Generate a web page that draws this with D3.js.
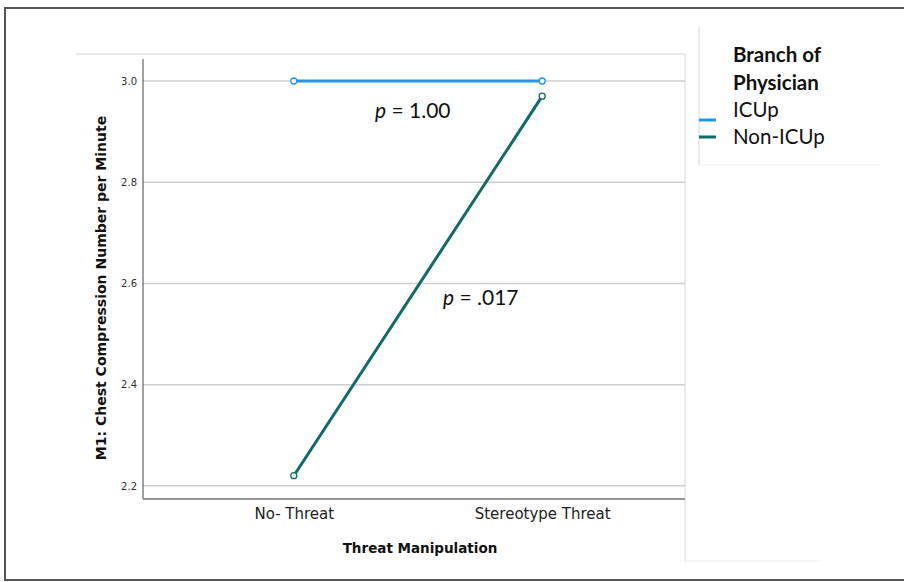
<!DOCTYPE html>
<html>
<head>
<meta charset="utf-8">
<script src="https://cdn.jsdelivr.net/npm/d3@7"></script>
<style>
  html, body { margin: 0; padding: 0; background: #fff; }
  svg { display: block; }
</style>
</head>
<body>
<div id="chart"></div>
<script>
// Chart data
let conditions = ['No- Threat', 'Stereotype Threat'];
let groups = ['ICUp', 'Non-ICUp'];
let icupMeans = [3.0, 3.0];
let nonIcupMeans = [2.22, 2.97];
let yTicks = [2.2, 2.4, 2.6, 2.8, 3.0];
let pLabels = ['1.00', '.017'];

let width = 904;
let height = 582;
let colors = ['#2394e8', '#0e6b68'];

let svg = d3.select('#chart')
  .append('svg')
  .attr('width', width)
  .attr('height', height);

// Outer frame
svg.append('rect')
  .attr('x', 5).attr('y', 8)
  .attr('width', 910).attr('height', 572)
  .attr('fill', 'none')
  .attr('stroke', '#555')
  .attr('stroke-width', 2);

// Plot area
let plotLeft = 143, plotRight = 685, plotTop = 54, plotBottom = 499;

let x = d3.scalePoint()
  .domain(conditions)
  .range([plotLeft + 8, plotRight])
  .padding(0.575);

let y = d3.scaleLinear()
  .domain([2.174, 3.0])
  .range([plotBottom, 81]);

// Panel outline lines
svg.append('line')
  .attr('x1', 76).attr('x2', plotRight)
  .attr('y1', plotTop).attr('y2', plotTop)
  .attr('stroke', '#d6d6d6');
svg.append('line')
  .attr('x1', plotRight).attr('x2', plotRight)
  .attr('y1', plotTop).attr('y2', 561)
  .attr('stroke', '#d6d6d6');
svg.append('line')
  .attr('x1', plotRight).attr('x2', 820)
  .attr('y1', 561).attr('y2', 561)
  .attr('stroke', '#ececec');

// Gridlines
svg.append('g')
  .selectAll('line')
  .data(yTicks)
  .enter()
  .append('line')
  .attr('x1', plotLeft).attr('x2', plotRight)
  .attr('y1', (d) => y(d)).attr('y2', (d) => y(d))
  .attr('stroke', '#cfcfcf')
  .attr('stroke-width', 1.5);

// Y axis
let yAxis = svg.append('g')
  .attr('transform', 'translate(' + plotLeft + ',0)')
  .call(d3.axisLeft(y).tickValues(yTicks).tickFormat(d3.format('.1f')).tickSize(0).tickPadding(6));
yAxis.select('.domain')
  .attr('d', 'M0,59V' + plotBottom)
  .attr('stroke', '#444');
yAxis.selectAll('text')
  .style('font', '10px "DejaVu Sans"')
  .attr('fill', '#333');

// X axis
let xAxis = svg.append('g')
  .attr('transform', 'translate(0,' + plotBottom + ')')
  .call(d3.axisBottom(x).tickSize(0).tickPadding(9));
xAxis.select('.domain')
  .attr('d', 'M' + plotLeft + ',0H' + plotRight)
  .attr('stroke', '#777')
  .attr('stroke-width', 1.5);
xAxis.selectAll('text')
  .style('font', '15px "DejaVu Sans"')
  .attr('fill', '#222');

// Axis titles
svg.append('text')
  .attr('transform', 'translate(106,288) rotate(-90)')
  .attr('text-anchor', 'middle')
  .style('font', 'bold 14px "DejaVu Sans"')
  .attr('fill', '#111')
  .text('M1: Chest Compression Number per Minute');

svg.append('text')
  .attr('x', 420).attr('y', 553)
  .attr('text-anchor', 'middle')
  .style('font', 'bold 13.5px "DejaVu Sans"')
  .attr('fill', '#111')
  .text('Threat Manipulation');

// Lines and markers
let series = [icupMeans, nonIcupMeans];
let line = d3.line()
  .x((d, i) => x(conditions[i]))
  .y((d) => y(d));

let seriesG = svg.selectAll('.series')
  .data(series)
  .enter()
  .append('g')
  .attr('class', 'series');

seriesG.append('path')
  .attr('d', (d) => line(d))
  .attr('fill', 'none')
  .attr('stroke', (d, i) => colors[i])
  .attr('stroke-width', 3);

seriesG.each(function (d, si) {
  d3.select(this).selectAll('circle')
    .data(d)
    .enter()
    .append('circle')
    .attr('cx', (v, i) => x(conditions[i]))
    .attr('cy', (v) => y(v))
    .attr('r', 3)
    .attr('fill', '#fff')
    .attr('stroke', colors[si])
    .attr('stroke-width', 1.3);
});

// p-value annotations
let pPos = [[375, 118], [443, 305]];
pLabels.forEach((p, i) => {
  let t = svg.append('text')
    .attr('x', pPos[i][0]).attr('y', pPos[i][1])
    .style('font', '21px Lato')
    .attr('fill', '#111');
  t.append('tspan').style('font-style', 'italic').text('p');
  t.append('tspan').text(' = ' + p);
});

// Legend
svg.append('line')
  .attr('x1', 699).attr('x2', 699)
  .attr('y1', 27).attr('y2', 165)
  .attr('stroke', '#d6d6d6');
svg.append('line')
  .attr('x1', 699).attr('x2', 880)
  .attr('y1', 165).attr('y2', 165)
  .attr('stroke', '#f2f2f2');

svg.append('text')
  .attr('x', 733).attr('y', 62)
  .style('font', 'bold 20.5px Lato')
  .attr('fill', '#111')
  .text('Branch of');
svg.append('text')
  .attr('x', 733).attr('y', 90)
  .style('font', 'bold 20.5px Lato')
  .attr('fill', '#111')
  .text('Physician');

let legendItem = svg.selectAll('.legend-item')
  .data(groups)
  .enter()
  .append('g')
  .attr('class', 'legend-item');

legendItem.append('line')
  .attr('x1', 699).attr('x2', 716)
  .attr('y1', (d, i) => 120 + i * 17)
  .attr('y2', (d, i) => 120 + i * 17)
  .attr('stroke', (d, i) => colors[i])
  .attr('stroke-width', 3);

legendItem.append('text')
  .attr('x', 733)
  .attr('y', (d, i) => 117 + i * 27)
  .style('font', '20.5px Lato')
  .attr('fill', '#111')
  .text((d) => d);
</script>
</body>
</html>
